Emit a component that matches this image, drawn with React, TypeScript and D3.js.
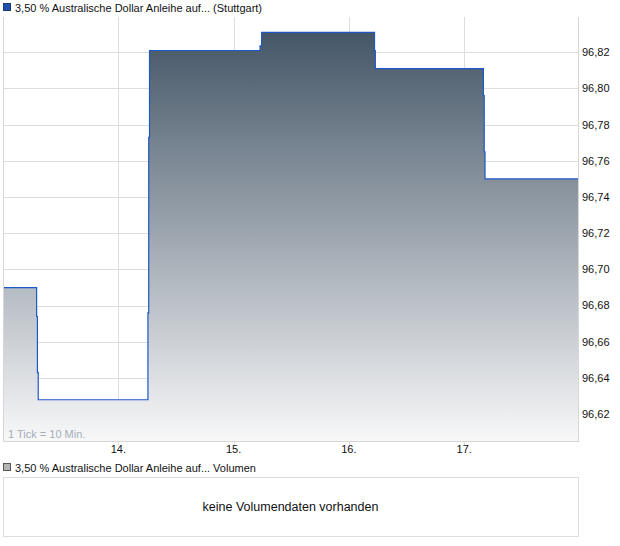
import React from "react";
import * as d3 from "d3";

const title = "3,50 % Australische Dollar Anleihe auf... (Stuttgart)";
const volumeTitle = "3,50 % Australische Dollar Anleihe auf... Volumen";
const noVolume = "keine Volumendaten vorhanden";
const tickNote = "1 Tick = 10 Min.";

// time as "day HH:MM"
const times = [
  "13 00:00", "13 07:00", "13 07:10", "13 07:20",
  "14 06:10", "14 06:20", "14 06:30",
  "15 05:30", "15 05:50",
  "16 05:20", "16 05:30",
  "17 04:00", "17 04:10", "17 04:20", "17 23:41",
];
const prices = [
  96.69, 96.674, 96.643, 96.628,
  96.676, 96.773, 96.821,
  96.8235, 96.831,
  96.821, 96.811,
  96.796, 96.765, 96.75, 96.75,
];
const xTickDays = [14, 15, 16, 17];
const yTickValues = [96.62, 96.64, 96.66, 96.68, 96.7, 96.72, 96.74, 96.76, 96.78, 96.8, 96.82];

const toDay = (s: string) => {
  const [d, hm] = s.split(" ");
  const [h, m] = hm.split(":").map(Number);
  return Number(d) + h / 24 + m / 1440;
};

const data = times.map((t, i) => ({ t: toDay(t), v: prices[i] }));

const FONT = "'Liberation Sans', Arial, Helvetica, sans-serif";

export default function App() {
  const W = 620, H = 546;
  const left = 3, right = 578, top = 17, bottom = 441;

  const x = d3.scaleLinear().domain([13, 17.987]).range([left, right]);
  const y = d3.scaleLinear().domain([96.6052, 96.8395]).range([bottom, top]);

  const area = d3
    .area<{ t: number; v: number }>()
    .curve(d3.curveStepAfter)
    .x((d) => x(d.t))
    .y0(bottom)
    .y1((d) => y(d.v));
  const line = d3
    .line<{ t: number; v: number }>()
    .curve(d3.curveStepAfter)
    .x((d) => x(d.t))
    .y((d) => y(d.v));

  const fmt = (v: number) => d3.format(".2f")(v).replace(".", ",");

  return (
    <svg
      width={W}
      height={H}
      style={{ position: "absolute", left: 0, top: 0, background: "#fff" }}
      fontFamily={FONT}
    >
      <defs>
        <linearGradient id="fillGrad" gradientUnits="userSpaceOnUse" x1={0} y1={top} x2={0} y2={bottom}>
          <stop offset="0" stopColor="#3e5062" />
          <stop offset="1" stopColor="#f8f8f9" />
        </linearGradient>
      </defs>

      {/* title legend */}
      <rect x={3.5} y={3.5} width={7} height={7} fill="#1f4fb4" stroke="#243a66" strokeWidth={1} />
      <text x={15} y={12} fontSize={11} fill="#111">{title}</text>

      {/* gridlines */}
      {yTickValues.map((v) => (
        <line key={"gy" + v} x1={left} x2={right} y1={Math.round(y(v)) + 0.5} y2={Math.round(y(v)) + 0.5} stroke="#dddddd" strokeWidth={1} />
      ))}
      {xTickDays.map((d) => (
        <line key={"gx" + d} x1={Math.round(x(d)) + 0.5} x2={Math.round(x(d)) + 0.5} y1={top} y2={bottom + 4} stroke="#dddddd" strokeWidth={1} />
      ))}

      {/* area + line */}
      <path d={area(data) || ""} fill="url(#fillGrad)" />
      <path d={line(data) || ""} fill="none" stroke="#1c58c8" strokeWidth={1.2} />

      {/* frame */}
      <line x1={left + 0.5} x2={left + 0.5} y1={top} y2={bottom + 0.5} stroke="#d6d6d6" />
      <line x1={right + 0.5} x2={right + 0.5} y1={top} y2={bottom + 0.5} stroke="#d6d6d6" />
      <line x1={left} x2={right + 1} y1={bottom + 0.5} y2={bottom + 0.5} stroke="#d6d6d6" />

      <text x={8} y={438} fontSize={11} fill="#a4aeb8">{tickNote}</text>

      {/* y labels */}
      {yTickValues.map((v) => (
        <text key={"yl" + v} x={582} y={y(v)} dy="0.35em" fontSize={11} fill="#111">{fmt(v)}</text>
      ))}
      {/* x labels */}
      {xTickDays.map((d) => (
        <text key={"xl" + d} x={x(d)} y={453} fontSize={11} fill="#111" textAnchor="middle">{d + "."}</text>
      ))}

      {/* volume panel */}
      <rect x={3.5} y={463.5} width={7} height={7} fill="#b4b4b4" stroke="#555" strokeWidth={1} />
      <text x={15} y={472} fontSize={11} fill="#111">{volumeTitle}</text>
      <rect x={3.5} y={477.5} width={575} height={59} fill="#fff" stroke="#dddddd" />
      <text x={290.5} y={507} dy="0.35em" fontSize={12.5} fill="#111" textAnchor="middle">{noVolume}</text>
    </svg>
  );
}
